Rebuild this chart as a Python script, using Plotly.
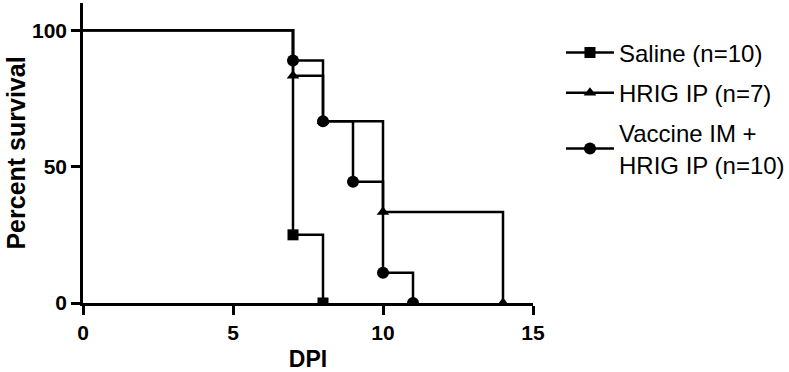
import plotly.graph_objects as go

# Data (Kaplan-Meier steps)
saline_days = [0, 7, 8]
saline_surv = [100, 25, 0]

hrig_days = [0, 7, 8, 10, 14]
hrig_surv = [100, 83.33, 66.67, 33.33, 0]

vacc_days = [0, 7, 8, 9, 10, 11]
vacc_surv = [100, 88.89, 66.67, 44.44, 11.11, 0]

series_names = ["Saline (n=10)", "HRIG IP (n=7)", "Vaccine IM +<br>HRIG IP (n=10)"]
x_ticks = [0, 5, 10, 15]
y_ticks = [0, 50, 100]

FONT = "Arial, Liberation Sans, sans-serif"
BLACK = "#000000"
LW = 2.5

series = [
    (saline_days, saline_surv, "square", 11),
    (hrig_days, hrig_surv, "triangle-up", 11),
    (vacc_days, vacc_surv, "circle", 12),
]

fig = go.Figure()

for (xs, ys, sym, ms) in series:
    fig.add_trace(go.Scatter(
        x=xs, y=ys, mode="lines", line=dict(shape="hv", color=BLACK, width=LW),
        showlegend=False, hoverinfo="skip"))
    fig.add_trace(go.Scatter(
        x=xs[1:], y=ys[1:], mode="markers",
        marker=dict(symbol=sym, size=ms, color=BLACK),
        showlegend=False))

for i, ((xs, ys, sym, ms), name) in enumerate(zip(series, series_names)):
    fig.add_trace(go.Scatter(
        x=[None], y=[None], mode="lines+markers", name=name,
        legendgroup=f"g{i}",
        line=dict(color=BLACK, width=LW),
        marker=dict(symbol=sym, size=ms, color=BLACK)))

fig.update_layout(
    width=789, height=372,
    margin=dict(l=83, r=256, t=3, b=69, autoexpand=False),
    paper_bgcolor="white", plot_bgcolor="white",
    font=dict(family=FONT, color=BLACK, size=21),
    legend=dict(
        xref="container", yref="container",
        x=0.711, y=0.918, xanchor="left", yanchor="top",
        font=dict(family=FONT, size=24, color=BLACK),
        itemwidth=48, traceorder="grouped", tracegroupgap=6,
        bgcolor="rgba(0,0,0,0)",
    ),
    xaxis=dict(
        range=[0, 15], tickvals=x_ticks, ticktext=[str(v) for v in x_ticks],
        showgrid=False, zeroline=False, showline=True, linecolor=BLACK, linewidth=LW,
        ticks="outside", ticklen=9, tickwidth=LW, tickcolor=BLACK,
        tickfont=dict(family=FONT, size=21, weight="bold"),
        title=dict(text="DPI", font=dict(family=FONT, size=23, weight="bold"), standoff=12),
    ),
    yaxis=dict(
        range=[0, 110], tickvals=y_ticks, ticktext=[str(v) for v in y_ticks],
        showgrid=False, zeroline=False, showline=True, linecolor=BLACK, linewidth=LW,
        ticks="outside", ticklen=9, tickwidth=LW, tickcolor=BLACK,
        tickfont=dict(family=FONT, size=21, weight="bold"),
        title=dict(text="Percent survival", font=dict(family=FONT, size=25, weight="bold"), standoff=0),
    ),
)

fig.write_html("out.html", config={"displayModeBar": False},
               post_script="document.body.style.margin='0';")
